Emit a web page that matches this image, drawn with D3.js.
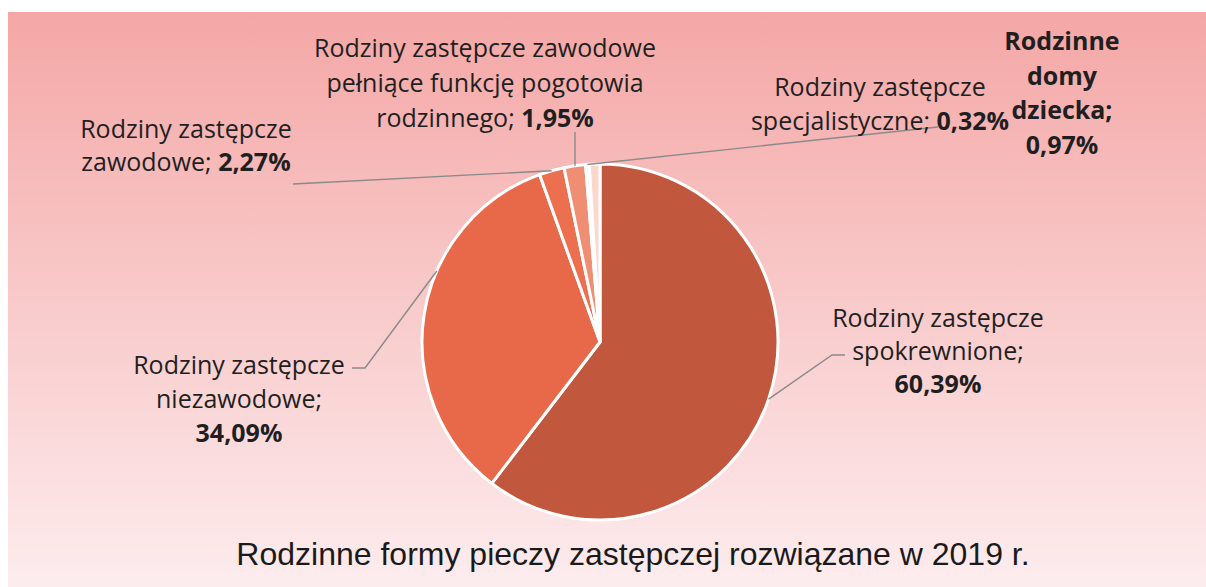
<!DOCTYPE html>
<html><head><meta charset="utf-8">
<script src="https://cdn.jsdelivr.net/npm/d3@7"></script>
<style>html,body{margin:0;padding:0;background:#fff;}svg{display:block;}</style>
</head><body>
<svg id="c" width="1206" height="587"></svg>
<script>
const categories = [
  "Rodziny zastępcze spokrewnione",
  "Rodziny zastępcze niezawodowe",
  "Rodziny zastępcze zawodowe",
  "Rodziny zastępcze zawodowe pełniące funkcję pogotowia rodzinnego",
  "Rodziny zastępcze specjalistyczne",
  "Rodzinne domy dziecka"
];
const values = [60.39, 34.09, 2.27, 1.95, 0.32, 0.97];
const valueLabels = ["60,39%", "34,09%", "2,27%", "1,95%", "0,32%", "0,97%"];
const colors = ["#c1583e", "#e8694a", "#ec6f4f", "#f08e74", "#fdf0ea", "#fbd8cb"];
const labelLines = [
  [["Rodziny zastępcze"], ["spokrewnione;"], [null, "60,39%"]],
  [["Rodziny zastępcze"], ["niezawodowe;"], [null, "34,09%"]],
  [["Rodziny zastępcze"], ["zawodowe; ", "2,27%"]],
  [["Rodziny zastępcze zawodowe"], ["pełniące funkcję pogotowia"], ["rodzinnego; ", "1,95%"]],
  [["Rodziny zastępcze"], ["specjalistyczne; ", "0,32%"]],
  [[null, "Rodzinne"], [null, "domy"], [null, "dziecka;"], [null, "0,97%"]]
];
const title = "Rodzinne formy pieczy zastępczej rozwiązane w 2019 r.";

const svg = d3.select("#c");
const W = 1206, H = 587;
const defs = svg.append("defs");
const grad = defs.append("linearGradient").attr("id","bg").attr("x1",0).attr("y1",0).attr("x2",0).attr("y2",1);
grad.append("stop").attr("offset","0%").attr("stop-color","#f4a7a6");
grad.append("stop").attr("offset","45%").attr("stop-color","#f8c6c6");
grad.append("stop").attr("offset","100%").attr("stop-color","#fdecee");
svg.append("rect").attr("x",8).attr("y",12).attr("width",W-8).attr("height",H-12).attr("fill","url(#bg)");

const cx = 600, cy = 342, R = 178;
const pie = d3.pie().sort(null).value(d => d)(values);
const arc = d3.arc().innerRadius(0).outerRadius(R);
const g = svg.append("g").attr("transform",`translate(${cx},${cy})`);
g.selectAll("path").data(pie).join("path")
  .attr("d", arc).attr("fill",(d,i)=>colors[i])
  .attr("stroke","#fff").attr("stroke-width",3).attr("stroke-linejoin","round");

const edge = (i, t=0.5) => { const p = pie[i]; const a = p.startAngle + (p.endAngle-p.startAngle)*t; return [cx + R*Math.sin(a), cy - R*Math.cos(a)]; };
const leaders = [
  {i:0, pts:[[832,355],[845,355]], t:0.5},
  {i:1, pts:[[365,368],[352,368]], t:0.62},
  {i:2, pts:[[293,184]], t:0.5},
  {i:3, pts:[[575,132]], t:0.5},
  {i:4, pts:[[938,127]], t:0.5}
];
const line = d3.line();
leaders.forEach(L => {
  let s = edge(L.i, L.t);
  if (L.i === 3) s = [575, s[1]];
  svg.append("path").attr("d", line([s, ...L.pts])).attr("fill","none")
    .attr("stroke","#8a8a8a").attr("stroke-width",1.4);
});

const labelPos = [
  {x:938, y:327, dy:33},
  {x:239, y:374, dy:34},
  {x:186, y:138, dy:33},
  {x:485, y:57, dy:35},
  {x:880, y:96, dy:34},
  {x:1062, y:50, dy:34.5}
];
labelLines.forEach((lines, i) => {
  const p = labelPos[i];
  const t = svg.append("text").attr("text-anchor","middle")
    .attr("font-family","'Open Sans', Lato, sans-serif").attr("font-size",25).attr("fill","#1f1f1f");
  lines.forEach((ln, j) => {
    const ts = t.append("tspan").attr("x", p.x).attr("y", p.y + j*p.dy);
    if (ln[0]) ts.append("tspan").text(ln[0]);
    if (ln[1]) ts.append("tspan").attr("font-weight","bold").text(ln[1]);
  });
});

svg.append("text").attr("x",633).attr("y",565).attr("text-anchor","middle")
  .attr("font-family","'Liberation Sans', Arial, sans-serif").attr("font-size",32)
  .attr("fill","#1a1a1a").text(title);
</script>
</body></html>
